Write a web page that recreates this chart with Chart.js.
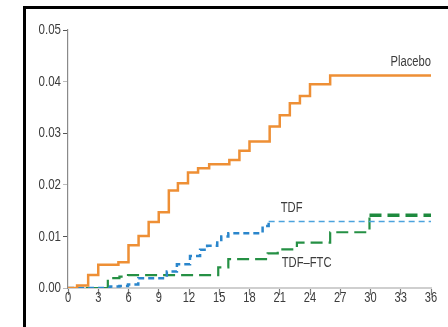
<!DOCTYPE html>
<html>
<head>
<meta charset="utf-8">
<script src="https://cdn.jsdelivr.net/npm/chart.js@4/dist/chart.umd.min.js"></script>
<style>
  html, body { margin: 0; padding: 0; background: #fff; overflow: hidden; }
  canvas { display: block; }
</style>
</head>
<body>
<canvas id="c" width="448" height="327"></canvas>
<script>
// Cumulative incidence, months since enrolment (x) vs probability (y).
// Each pair: the month at which the curve steps, and the level it steps to.
const placeboMonths = [0, 0.9, 2.0, 3.0, 5.0, 6.0, 7.0, 8.0, 9.0, 10.0, 10.9, 11.9, 12.9, 14.0, 16.0, 17.0, 18.0, 20.0, 21.0, 22.0, 23.0, 24.0, 26.0, 36];
const placeboValues = [0, 0.0005, 0.0025, 0.0045, 0.0050, 0.0083, 0.0101, 0.0128, 0.0147, 0.0189, 0.0203, 0.0224, 0.0232, 0.0240, 0.0248, 0.0266, 0.0284, 0.0313, 0.0335, 0.0358, 0.0372, 0.0395, 0.0412, 0.0412];

const tdfMonths = [0, 4.2, 5.1, 5.95, 6.97, 9.8, 10.8, 12.1, 13.1, 13.8, 14.8, 15.2, 15.9, 19.3, 19.9, 36];
const tdfValues = [0, 0.0003, 0.0004, 0.0007, 0.0019, 0.0032, 0.0046, 0.0062, 0.0074, 0.0082, 0.0093, 0.0100, 0.0106, 0.0120, 0.0129, 0.0129];

const tdfFtcMonths = [0, 3.95, 5.1, 5.95, 14.9, 15.9, 19.8, 20.8, 22.7, 26.0, 29.9, 36];
const tdfFtcValues = [0, 0.0019, 0.0022, 0.0025, 0.0040, 0.0056, 0.0067, 0.0075, 0.0088, 0.0108, 0.0141, 0.0141];

const xTicks = [0, 3, 6, 9, 12, 15, 18, 21, 24, 27, 30, 33, 36];
const yTicks = [0, 0.01, 0.02, 0.03, 0.04, 0.05];

const seriesNames = ['Placebo', 'TDF', 'TDF\u2013FTC'];

const toPoints = (xs, ys) => xs.map((x, i) => ({ x, y: ys[i] }));

const FONT = "'Liberation Sans', 'DejaVu Sans', sans-serif";
const TEXT = '#3c3c3c';

// Draws text squeezed horizontally to get a narrow typeface look
function narrowText(ctx, text, px, py, align, squeeze) {
  ctx.save();
  ctx.translate(px, py);
  ctx.scale(squeeze, 1);
  ctx.textAlign = align;
  ctx.fillText(text, 0, 0);
  ctx.restore();
}

// Black frame lines along the left and top of the figure
const framePlugin = {
  id: 'frame',
  beforeDraw(chart) {
    const { ctx, width, height } = chart;
    ctx.save();
    ctx.strokeStyle = '#000';
    ctx.lineWidth = 3;
    ctx.beginPath();
    ctx.moveTo(24.5, height);
    ctx.lineTo(24.5, 7.5);
    ctx.lineTo(width, 7.5);
    ctx.stroke();
    ctx.restore();
  }
};

// Tick labels for both axes, placed from the scales' own tick positions
const tickLabelPlugin = {
  id: 'tickLabels',
  afterDraw(chart) {
    const { ctx, scales: { x, y } } = chart;
    ctx.save();
    ctx.font = '15px ' + FONT;
    ctx.fillStyle = TEXT;
    ctx.textBaseline = 'middle';
    y.ticks.forEach(t => {
      narrowText(ctx, t.value.toFixed(2), y.right - 7, y.getPixelForValue(t.value), 'right', 0.77);
    });
    x.ticks.forEach(t => {
      narrowText(ctx, String(t.value), x.getPixelForValue(t.value), x.top + 10, 'center', 0.74);
    });
    ctx.restore();
  }
};

// Curve captions placed in data units next to each curve
const captionPlugin = {
  id: 'captions',
  afterDatasetsDraw(chart) {
    const { ctx, scales: { x, y } } = chart;
    const items = [
      { text: seriesNames[0], mx: 36, my: 0.0438, align: 'right' },
      { text: seriesNames[1], mx: 21.1, my: 0.0155, align: 'left' },
      { text: seriesNames[2], mx: 21.2, my: 0.0048, align: 'left' }
    ];
    ctx.save();
    ctx.font = '14px ' + FONT;
    ctx.fillStyle = TEXT;
    ctx.textBaseline = 'middle';
    items.forEach(it => {
      narrowText(ctx, it.text, x.getPixelForValue(it.mx), y.getPixelForValue(it.my), it.align, 0.8);
    });
    ctx.restore();
  }
};

new Chart(document.getElementById('c'), {
  type: 'line',
  data: {
    datasets: [
      {
        label: seriesNames[0],
        data: toPoints(placeboMonths, placeboValues),
        stepped: 'before',
        borderColor: '#EE8F35',
        borderWidth: 2.5,
        pointRadius: 0,
        fill: false
      },
      {
        label: seriesNames[1],
        data: toPoints(tdfMonths, tdfValues),
        stepped: 'before',
        borderColor: '#2A86CC',
        borderWidth: 2.5,
        borderDash: [6, 4],
        segment: {
          borderWidth: c => c.p0.parsed.x >= 19.9 ? 1.5 : 2.5,
          borderColor: c => c.p0.parsed.x >= 19.9 ? '#4BA3DD' : '#2A86CC'
        },
        pointRadius: 0,
        fill: false
      },
      {
        label: seriesNames[2],
        data: toPoints(tdfFtcMonths, tdfFtcValues),
        stepped: 'before',
        borderColor: '#259044',
        borderWidth: 2.2,
        borderDash: [12, 6],
        segment: {
          borderWidth: c => c.p0.parsed.x >= 29.9 ? 3.5 : 2.2,
          borderColor: c => c.p0.parsed.x >= 29.9 ? '#1E8A3E' : '#259044'
        },
        pointRadius: 0,
        fill: false
      }
    ]
  },
  options: {
    responsive: false,
    animation: false,
    events: [],
    layout: { padding: { top: 30, right: 17, left: 0, bottom: 0 } },
    plugins: { legend: { display: false }, tooltip: { enabled: false } },
    scales: {
      x: {
        type: 'linear',
        min: 0,
        max: 36,
        afterBuildTicks: s => { s.ticks = xTicks.map(v => ({ value: v })); },
        afterFit: s => { s.height = 39; },
        ticks: { display: false },
        grid: { drawOnChartArea: false, drawTicks: true, tickLength: 7, tickColor: '#7a7a7a', tickWidth: 1.2 },
        border: { display: true, color: '#cfcfcf', width: 2 }
      },
      y: {
        type: 'linear',
        min: 0,
        max: 0.05,
        afterBuildTicks: s => { s.ticks = yTicks.map(v => ({ value: v })); },
        afterFit: s => { s.width = 68; },
        ticks: { display: false },
        grid: {
          drawOnChartArea: false, drawTicks: true, tickLength: 5,
          tickColor: c => (Math.round(c.tick.value * 100) % 2 === 1) ? '#555' : '#bbb'
        },
        border: { display: true, color: '#8a8a8a', width: 1.2 }
      }
    }
  },
  plugins: [framePlugin, captionPlugin, tickLabelPlugin]
});
</script>
</body>
</html>
